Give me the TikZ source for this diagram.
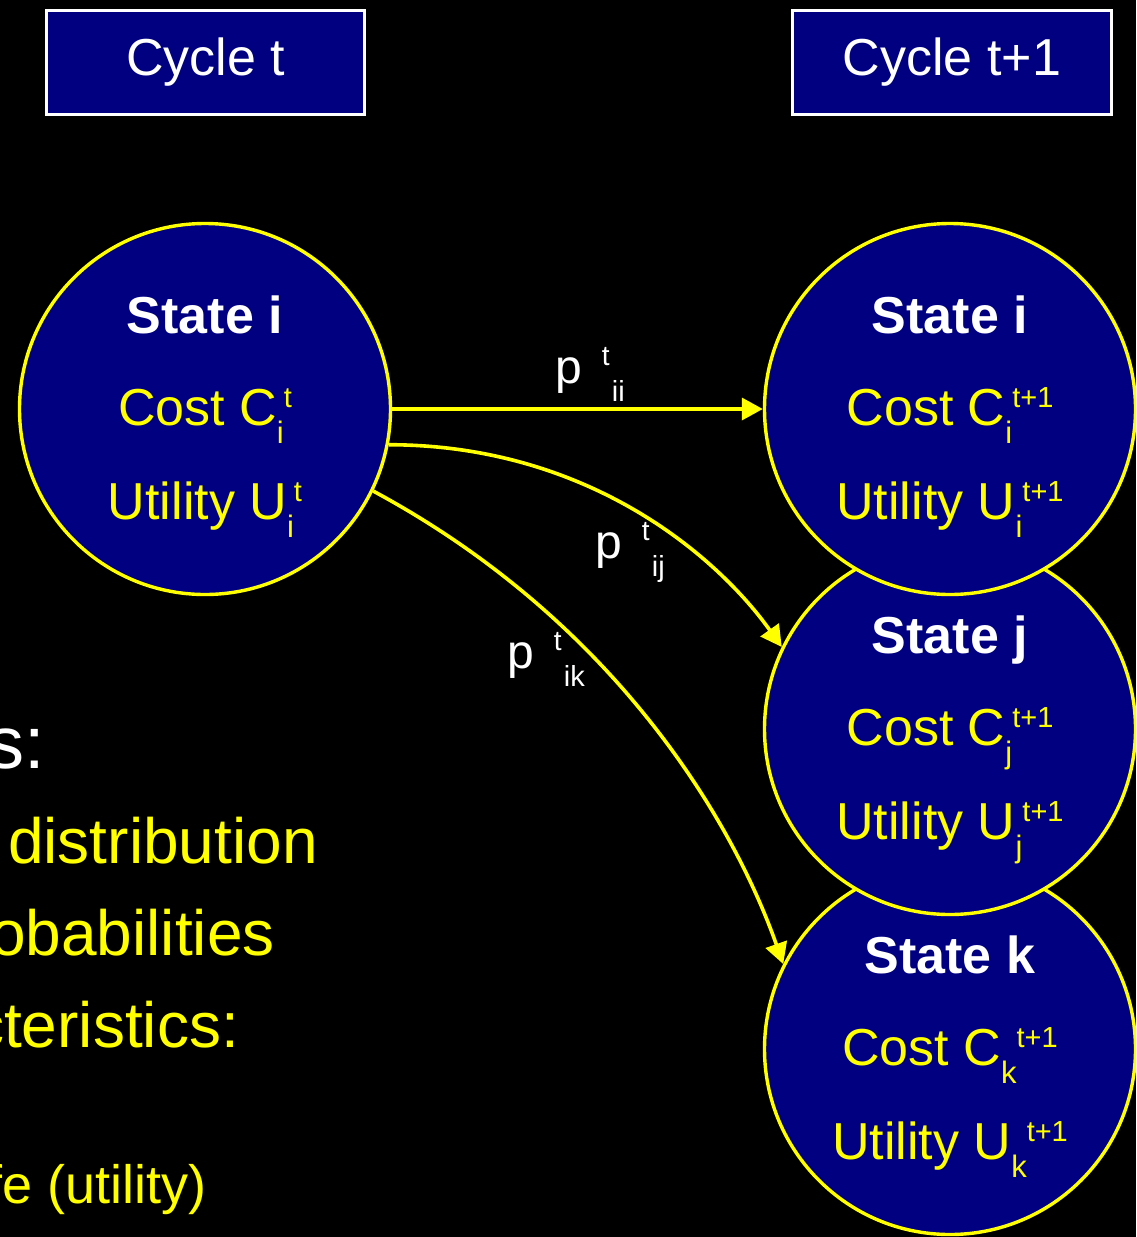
\documentclass[tikz,border=0pt]{standalone}
\usepackage{fontspec}
\setmainfont{Liberation Sans}
\usetikzlibrary{arrows.meta}
\definecolor{navy}{RGB}{0,0,128}
\definecolor{yel}{RGB}{255,255,0}
\newcommand\mylo[1]{\raisebox{-18pt}{\fontsize{31}{31}\selectfont #1}}
\newcommand\myhi[1]{\raisebox{18pt}{\fontsize{29}{29}\selectfont #1}}
\newcommand\plab[2]{p\hspace{20pt}\rlap{\raisebox{18pt}{\fontsize{28}{28}\selectfont #1}}\hspace{10pt}\raisebox{-18pt}{\fontsize{29}{29}\selectfont #2}}
\tikzset{
  cyclebox/.style={draw=white, line width=3pt, fill=navy, minimum width=318pt, minimum height=104pt, inner sep=0pt, text=white, font=\fontsize{52}{60}\selectfont},
  statenode/.style={circle, draw=yel, line width=3.4pt, fill=navy, minimum size=371pt, inner sep=0pt},
  titletext/.style={anchor=base, text=white, font=\bfseries\fontsize{52}{60}\selectfont, inner sep=0pt},
  rowtext/.style={anchor=base, text=yel, font=\fontsize{52}{60}\selectfont, inner sep=0pt},
  plbl/.style={anchor=base west, text=white, font=\fontsize{48}{56}\selectfont, inner sep=0pt},
  bullettext/.style={text=yel, inner sep=0pt},
  arr/.style={draw=yel, line width=3.6pt, -{Triangle[length=21pt,width=22pt]}}
}
\begin{document}
\begin{tikzpicture}[x=1pt,y=-1pt]
\useasboundingbox (0,0) rectangle (1136,1237);
\fill[black] (0,0) rectangle (1136,1237);
\clip (0,0) rectangle (1136,1237);

% cycle headers
\node[cyclebox] (cyc1) at (205.5,62.5) {Cycle t};
\node[cyclebox, minimum width=319pt] (cyc2) at (952,62.5) {Cycle t+1};

% left-side text, cut by the picture's left edge as in the reference
\node[anchor=base east, text=white, inner sep=0pt, font=\fontsize{74}{80}\selectfont] (b1) at (45,768) {s:};
\node[bullettext, anchor=base west, font=\fontsize{64}{70}\selectfont] (b2) at (8,863) {distribution};
\node[bullettext, anchor=base east, font=\fontsize{64}{70}\selectfont] (b3) at (275,955) {obabilities};
\node[bullettext, anchor=base east, font=\fontsize{64}{70}\selectfont] (b4) at (239,1047) {cteristics:};
\node[bullettext, anchor=base east, font=\fontsize{54}{60}\selectfont] (b5) at (207,1203) {fe (utility)};

% states (drawn bottom first so upper circles overlap)
\node[statenode] (rk) at (950,1049) {};
\node[statenode] (rj) at (950,729) {};
\node[statenode] (ri) at (950,409) {};
\node[statenode] (ci) at (205,409) {};

% texts in left circle
\node[titletext, yshift=76pt] (ci-t) at (ci.center) {State i};
\node[rowtext, yshift=-16pt] (ci-c) at (ci.center) {Cost C\mylo{i}\myhi{t}};
\node[rowtext, yshift=-110pt] (ci-u) at (ci.center) {Utility U\mylo{i}\myhi{t}};

% texts in right circles
\node[titletext, yshift=76pt] (ri-t) at (ri.center) {State i};
\node[rowtext, yshift=-16pt] (ri-c) at (ri.center) {Cost C\mylo{i}\myhi{t+1}};
\node[rowtext, yshift=-110pt] (ri-u) at (ri.center) {Utility U\mylo{i}\myhi{t+1}};

\node[titletext, yshift=76pt] (rj-t) at (rj.center) {State j};
\node[rowtext, yshift=-16pt] (rj-c) at (rj.center) {Cost C\mylo{j}\myhi{t+1}};
\node[rowtext, yshift=-110pt] (rj-u) at (rj.center) {Utility U\mylo{j}\myhi{t+1}};

\node[titletext, yshift=76pt] (rk-t) at (rk.center) {State k};
\node[rowtext, yshift=-16pt] (rk-c) at (rk.center) {Cost C\mylo{k}\myhi{t+1}};
\node[rowtext, yshift=-110pt] (rk-u) at (rk.center) {Utility U\mylo{k}\myhi{t+1}};

% transitions
\draw[arr] (ci.east) -- (ri.west);
\draw[arr] (ci.-11) .. controls (590,445) and (718.5,558) .. (rj.154);
\draw[arr] (ci.-26) .. controls (620,624) and (735,827) .. (rk.153);

% transition labels
\node[plbl] (pii) at (555,383) {\plab{t}{ii}};
\node[plbl] (pij) at (595,558) {\plab{t}{ij}};
\node[plbl] (pik) at (507,668) {\plab{t}{ik}};
\end{tikzpicture}
\end{document}
